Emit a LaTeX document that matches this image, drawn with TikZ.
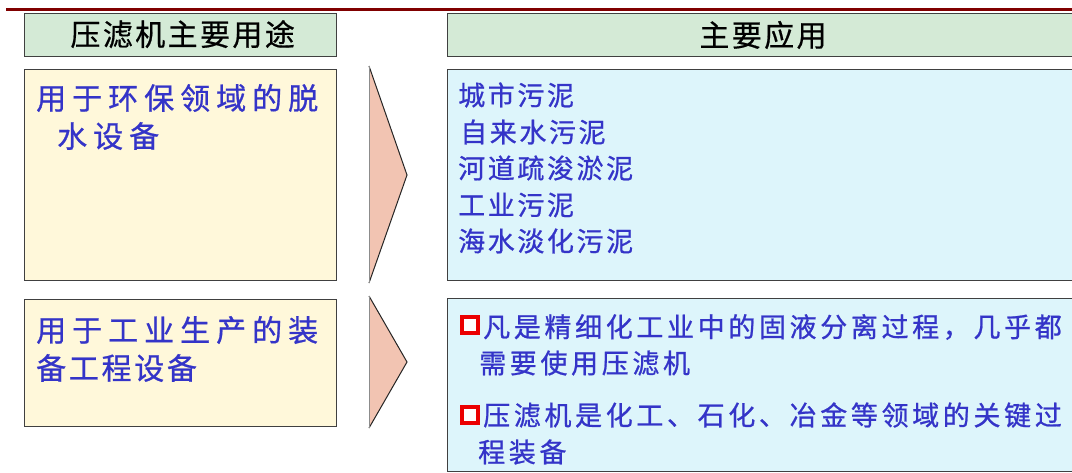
\documentclass[tikz,border=0pt]{standalone}
\usepackage{fontspec}
\newfontfamily\cjk{Noto Sans CJK SC}
\definecolor{topred}{RGB}{128,0,0}
\definecolor{boxline}{RGB}{64,64,64}
\definecolor{hdrfill}{RGB}{212,234,214}
\definecolor{leftfill}{RGB}{255,248,218}
\definecolor{rightfill}{RGB}{221,245,251}
\definecolor{arrfill}{RGB}{242,196,178}
\definecolor{bluetxt}{RGB}{52,52,200}
\definecolor{bulletred}{RGB}{235,0,0}
\tikzset{
  panel/.style={draw=boxline, line width=1.3pt, anchor=north west, inner sep=0pt},
  hdrbox/.style={panel, fill=hdrfill},
  leftbox/.style={panel, fill=leftfill},
  rightbox/.style={panel, fill=rightfill},
  hdrtext/.style={inner sep=0pt, text=black, font=\cjk\fontsize{30}{32}\selectfont\addfontfeature{LetterSpace=8,FakeBold=0.6}},
  lefttext/.style={inner sep=0pt, anchor=west, text=bluetxt, font=\cjk\fontsize{30}{32}\selectfont\addfontfeature{LetterSpace=20,FakeBold=0.8}},
  lefttextB/.style={inner sep=0pt, anchor=west, text=bluetxt, font=\cjk\fontsize{30}{32}\selectfont\addfontfeature{LetterSpace=9,FakeBold=0.8}},
  listtext/.style={inner sep=0pt, anchor=west, text=bluetxt, font=\cjk\fontsize{27}{30}\selectfont\addfontfeature{LetterSpace=9.6,FakeBold=0.8}},
  bodytext/.style={inner sep=0pt, anchor=west, text=bluetxt, font=\cjk\fontsize{27}{30}\selectfont\addfontfeature{LetterSpace=13.5,FakeBold=0.8}},
  bulletbox/.style={draw=bulletred, fill=white, line width=3.6pt, minimum size=16pt, inner sep=0pt},
  chevron/.style={fill=arrfill, draw=black!85, line width=1pt, line join=miter},
  topline/.style={draw=topred, line width=2.5pt}
}
\begin{document}
\begin{tikzpicture}[x=1pt,y=-1pt]
\useasboundingbox (0,0) rectangle (1072,472);
\fill[white] (0,0) rectangle (1072,472);
% top rule
\coordinate (tl) at (6,9.5);
\coordinate (tr) at (1080,9.5);
\draw[topline] (tl) -- (tr);
% headers
\node[hdrbox, minimum width=312pt, minimum height=43pt] (h1) at (24,13) {};
\node[hdrbox, minimum width=630pt, minimum height=43pt] (h2) at (447,13) {};
\node[hdrtext] (h1t) at ([xshift=2pt,yshift=1pt]h1.center) {压滤机主要用途};
\node[hdrtext] (h2t) at (763,35) {主要应用};
% row 1
\node[leftbox, minimum width=312pt, minimum height=211pt] (l1) at (24,69) {};
\node[rightbox, minimum width=630pt, minimum height=211pt] (r1) at (447,69) {};
\draw[fill=arrfill, draw=none] (369,66) -- (407,175) -- (369,283) -- cycle;
\draw[chevron] (369,66) -- (407,175) -- (369,283);
\draw[black!45, line width=1pt] (369,66) -- (369,283);
\node[lefttext] (l1a) at (36,98) {用于环保领域的脱};
\node[lefttext] (l1b) at (57,136) {水设备};
\node[listtext] (r1a) at (458,95) {城市污泥};
\node[listtext] (r1b) at (460,132) {自来水污泥};
\node[listtext] (r1c) at (458,168) {河道疏浚淤泥};
\node[listtext] (r1d) at (458,205) {工业污泥};
\node[listtext] (r1e) at (458,241) {海水淡化污泥};
% row 2
\node[leftbox, minimum width=312pt, minimum height=127pt] (l2) at (24,299) {};
\node[rightbox, minimum width=630pt, minimum height=173pt] (r2) at (447,298) {};
\draw[fill=arrfill, draw=none] (369,296) -- (407,362) -- (369,428) -- cycle;
\draw[chevron] (369,296) -- (407,362) -- (369,428);
\draw[black!45, line width=1pt] (369,296) -- (369,428);
\node[lefttext] (l2a) at (36,330) {用于工业生产的装};
\node[lefttextB] (l2b) at (36,368) {备工程设备};
\node[bulletbox] (b1) at (470,325) {};
\node[bulletbox] (b2) at (470,415) {};
\node[bodytext] (r2a) at (483,327) {凡是精细化工业中的固液分离过程，几乎都};
\node[bodytext] (r2b) at (479,363) {需要使用压滤机};
\node[bodytext] (r2c) at (483,415) {压滤机是化工、石化、冶金等领域的关键过};
\node[bodytext] (r2d) at (478,452) {程装备};
\end{tikzpicture}
\end{document}
